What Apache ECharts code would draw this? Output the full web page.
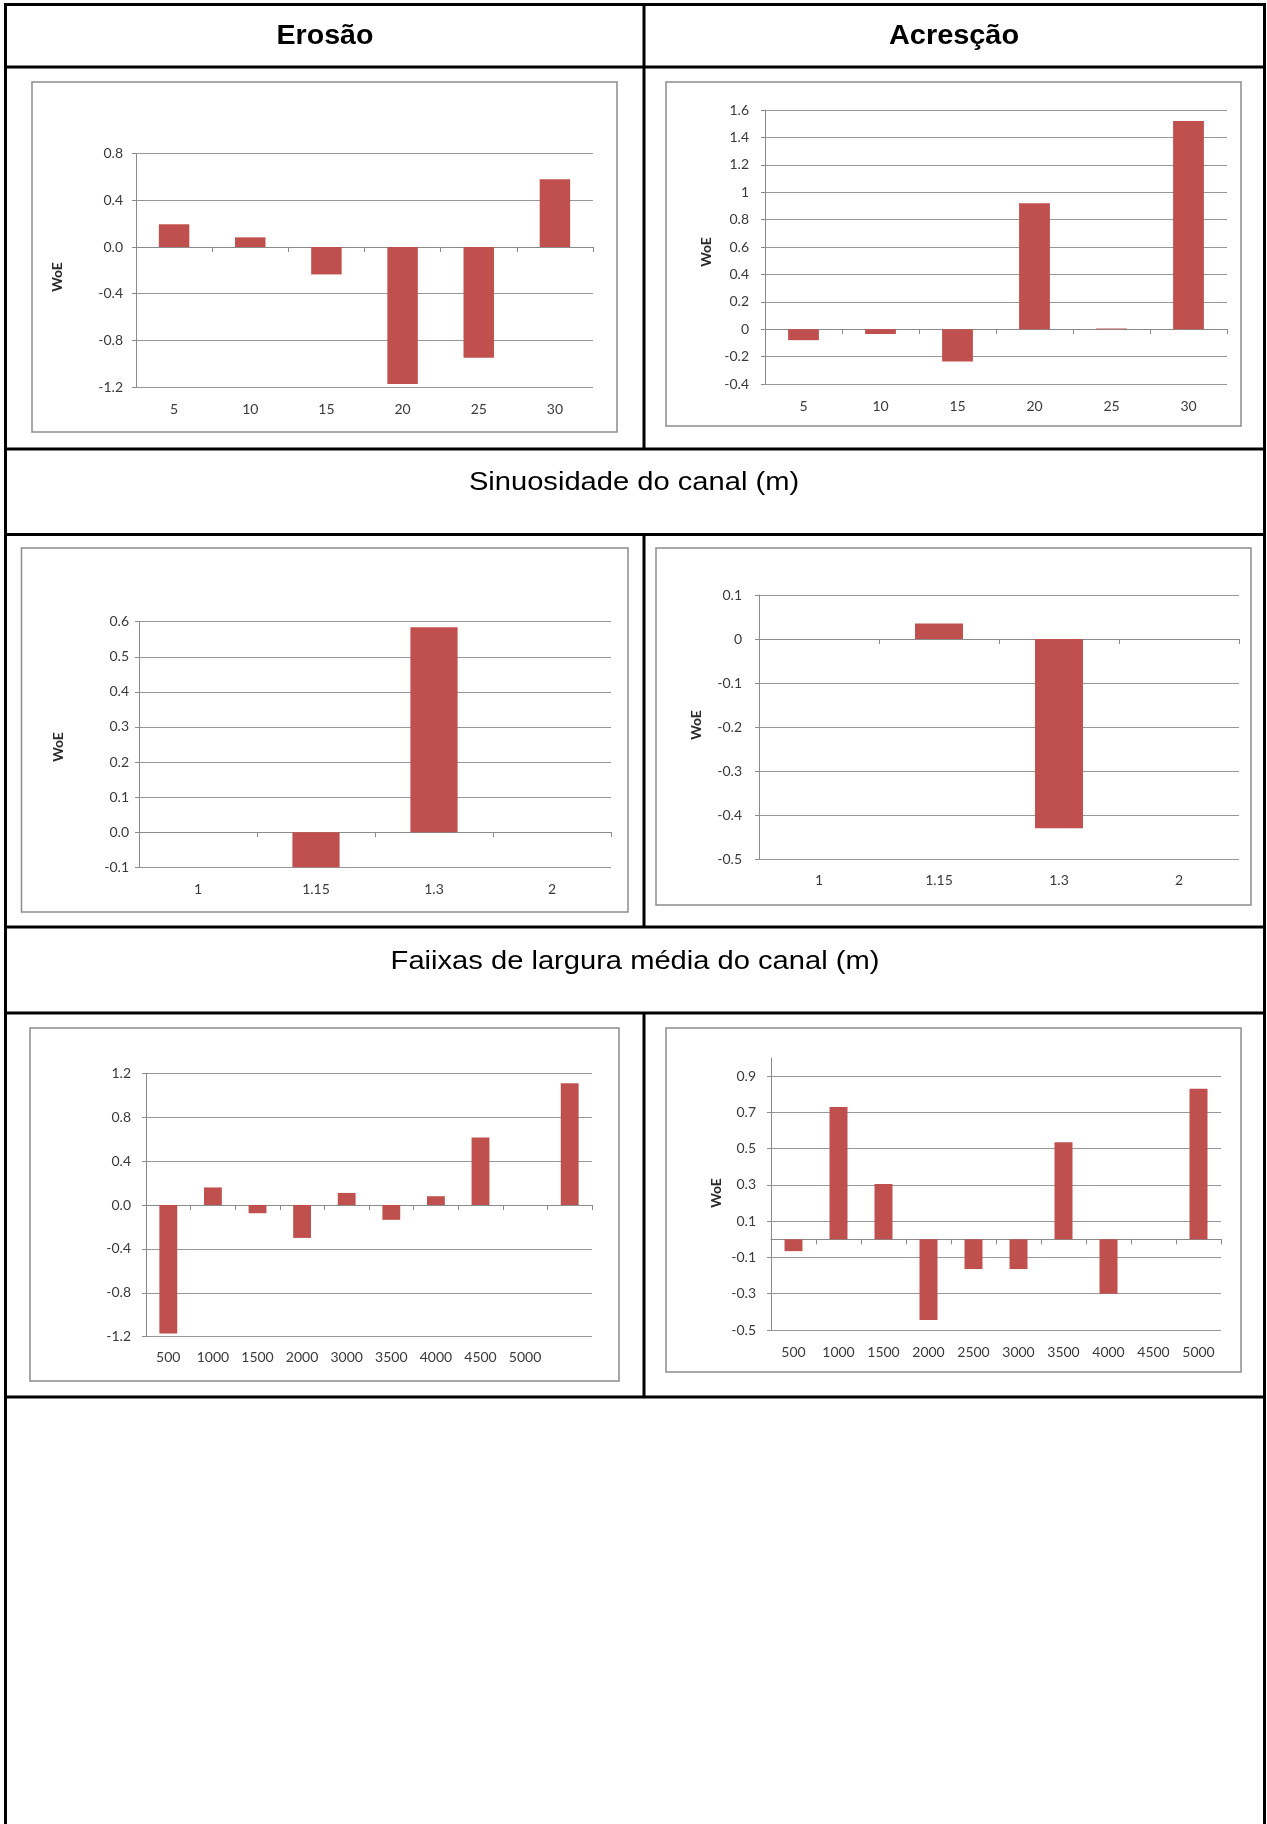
<!DOCTYPE html>
<html>
<head>
<meta charset="utf-8">
<script src="https://cdn.jsdelivr.net/npm/echarts@6/dist/echarts.min.js"></script>
<style>
html,body{margin:0;padding:0;background:#ffffff;}
#main{width:1267px;height:1824px;}
</style>
</head>
<body>
<div id="main"></div>
<script>
// ---------------- DATA ----------------
const headerLeft = 'Erosão';
const headerRight = 'Acresção';
const sectionSinuosidade = 'Sinuosidade do canal (m)';
const sectionLargura = 'Faiixas de largura média do canal (m)';
const yName = 'WoE';

const distCats = ['5', '10', '15', '20', '25', '30'];
const erosaoDistVals = [0.195, 0.083, -0.235, -1.175, -0.95, 0.58];
const acrescaoDistVals = [-0.08, -0.035, -0.235, 0.92, 0.005, 1.52];

const sinuCats = ['1', '1.15', '1.3', '2'];
const erosaoSinuVals = [0, -0.1, 0.584, 0];
const acrescaoSinuVals = [0, 0.035, -0.43, 0];

const erosaoLargCats = ['500', '1000', '1500', '2000', '3000', '3500', '4000', '4500', '5000', ''];
const erosaoLargVals = [-1.17, 0.16, -0.075, -0.30, 0.11, -0.135, 0.08, 0.615, 0, 1.11];
const acrescaoLargCats = ['500', '1000', '1500', '2000', '2500', '3000', '3500', '4000', '4500', '5000'];
const acrescaoLargVals = [-0.065, 0.73, 0.305, -0.445, -0.164, -0.164, 0.535, -0.30, 0, 0.83];
const acrescaoLargTicks = [-0.5, -0.3, -0.1, 0.1, 0.3, 0.5, 0.7, 0.9];

// ---------------- STYLE ----------------
const BAR = '#C0504D';
const GRIDC = '#979797';
const AXISC = '#8a8a8a';
const TXT = '#3a3a3a';
const LFONT = 'Lato, "Open Sans", sans-serif';
const fixed1 = v => Number(v).toFixed(1);

const panels = [
  {cats: distCats, vals: erosaoDistVals, min: -1.2, max: 0.8, interval: 0.4, fmt: fixed1,
   box: [136, 153.7, 593, 387], xm: 15, ym: 13, woe: [57, 277], frame: [32, 82, 617, 432]},
  {cats: distCats, vals: acrescaoDistVals, min: -0.4, max: 1.6, interval: 0.2, fmt: null,
   box: [765, 110, 1227, 384], xm: 15, ym: 16, woe: [706, 252], frame: [666, 82, 1241, 426]},
  {cats: sinuCats, vals: erosaoSinuVals, min: -0.1, max: 0.6, interval: 0.1, fmt: fixed1,
   box: [139, 621.7, 611, 867.3], xm: 15.5, ym: 10, woe: [58, 747], frame: [21.5, 548, 628, 912]},
  {cats: sinuCats, vals: acrescaoSinuVals, min: -0.5, max: 0.1, interval: 0.1, fmt: null,
   box: [759, 595, 1239, 859], xm: 14, ym: 17, woe: [696, 725], frame: [656, 548, 1251, 905]},
  {cats: erosaoLargCats, vals: erosaoLargVals, min: -1.2, max: 1.2, interval: 0.4, fmt: fixed1,
   box: [146, 1073.3, 592, 1336.7], xm: 14, ym: 15, woe: null, frame: [30, 1028, 619, 1381]},
  {cats: acrescaoLargCats, vals: acrescaoLargVals, min: -0.5, max: 1.0, interval: null, fmt: fixed1,
   ticks: acrescaoLargTicks,
   box: [771, 1058, 1221, 1330], xm: 15, ym: 15, woe: [716, 1193], frame: [666, 1028, 1241, 1372]}
];

const grids = [], xAxes = [], yAxes = [], series = [], graphics = [];

panels.forEach((p, i) => {
  grids.push({
    left: p.box[0], top: p.box[1],
    width: p.box[2] - p.box[0], height: p.box[3] - p.box[1],
    containLabel: false, outerBoundsMode: 'none'
  });
  // label axis (bottom of plot)
  xAxes.push({
    type: 'category', gridIndex: i, data: p.cats, position: 'bottom',
    axisLine: {show: false, onZero: false},
    axisTick: {show: false},
    splitLine: {show: false},
    axisLabel: {interval: 0, margin: p.xm, color: TXT, fontSize: 14, fontFamily: LFONT}
  });
  // zero line axis with tick marks
  xAxes.push({
    type: 'category', gridIndex: i, data: p.cats, position: 'bottom',
    axisLine: {show: true, onZero: true, lineStyle: {color: AXISC, width: 1}},
    axisTick: {show: true, length: 5, lineStyle: {color: AXISC, width: 1}},
    axisLabel: {show: false},
    splitLine: {show: false}
  });
  const y = {
    type: 'value', gridIndex: i, min: p.min, max: p.max,
    axisLine: {show: true, onZero: false, lineStyle: {color: AXISC, width: 1}},
    axisTick: {show: true, length: 4, lineStyle: {color: AXISC, width: 1}},
    axisLabel: {margin: p.ym, color: TXT, fontSize: 14, fontFamily: LFONT},
    splitLine: {show: true, lineStyle: {color: GRIDC, width: 1}}
  };
  if (p.interval) y.interval = p.interval;
  if (p.fmt) y.axisLabel.formatter = p.fmt;
  if (p.ticks) {
    y.axisLabel.customValues = p.ticks;
    y.axisTick.customValues = p.ticks;
  }
  yAxes.push(y);
  series.push({
    type: 'bar', xAxisIndex: 2 * i, yAxisIndex: i, data: p.vals,
    barCategoryGap: '60%', itemStyle: {color: BAR}, silent: true
  });
  // chart frame
  graphics.push({
    type: 'rect', z: -10, silent: true,
    shape: {x: p.frame[0], y: p.frame[1], width: p.frame[2] - p.frame[0], height: p.frame[3] - p.frame[1]},
    style: {fill: 'transparent', stroke: '#8c8c8c', lineWidth: 1.5}
  });
  if (p.woe) {
    graphics.push({
      type: 'text', x: p.woe[0], y: p.woe[1], rotation: Math.PI / 2, silent: true,
      style: {text: yName, align: 'center', verticalAlign: 'middle',
              font: 'bold 14px Lato, "Open Sans", sans-serif', fill: '#2a2a2a'}
    });
  }
});

// ---------------- TABLE ----------------
const L = 5.5, R = 1264.5, TOP = 4.5, BOT = 1824, MID = 644;
const hLines = [TOP, 67, 449, 534.5, 927, 1013, 1397];
hLines.forEach(yv => {
  graphics.push({type: 'line', silent: true, shape: {x1: L - 1.5, y1: yv, x2: R + 1.5, y2: yv},
                 style: {stroke: '#000', lineWidth: 3}});
});
[[L, TOP, BOT], [R, TOP, BOT], [MID, TOP, 449], [MID, 534.5, 927], [MID, 1013, 1397]].forEach(s => {
  graphics.push({type: 'line', silent: true, shape: {x1: s[0], y1: s[1], x2: s[0], y2: s[2]},
                 style: {stroke: '#000', lineWidth: 3}});
});

function headText(txt, x, y, bold, scaleX) {
  return {type: 'text', x: x, y: y, scaleX: scaleX, silent: true,
          style: {text: txt, align: 'center', verticalAlign: 'middle', fill: '#000',
                  font: (bold ? 'bold ' : '') + '27px "Liberation Sans", Arial, sans-serif'}};
}
graphics.push(headText(headerLeft, 325, 37, true, 1.06));
graphics.push(headText(headerRight, 954, 37, true, 1.07));
graphics.push({type: 'text', x: 634, y: 483, scaleX: 1.12, silent: true,
               style: {text: sectionSinuosidade, align: 'center', verticalAlign: 'middle', fill: '#000',
                       font: '26px "Liberation Sans", Arial, sans-serif'}});
graphics.push({type: 'text', x: 635, y: 962, scaleX: 1.12, silent: true,
               style: {text: sectionLargura, align: 'center', verticalAlign: 'middle', fill: '#000',
                       font: '26px "Liberation Sans", Arial, sans-serif'}});

const chart = echarts.init(document.getElementById('main'), null, {renderer: 'canvas', width: 1267, height: 1824});
chart.setOption({
  backgroundColor: '#ffffff',
  animation: false,
  grid: grids,
  xAxis: xAxes,
  yAxis: yAxes,
  series: series,
  graphic: {elements: graphics}
});
</script>
</body>
</html>
